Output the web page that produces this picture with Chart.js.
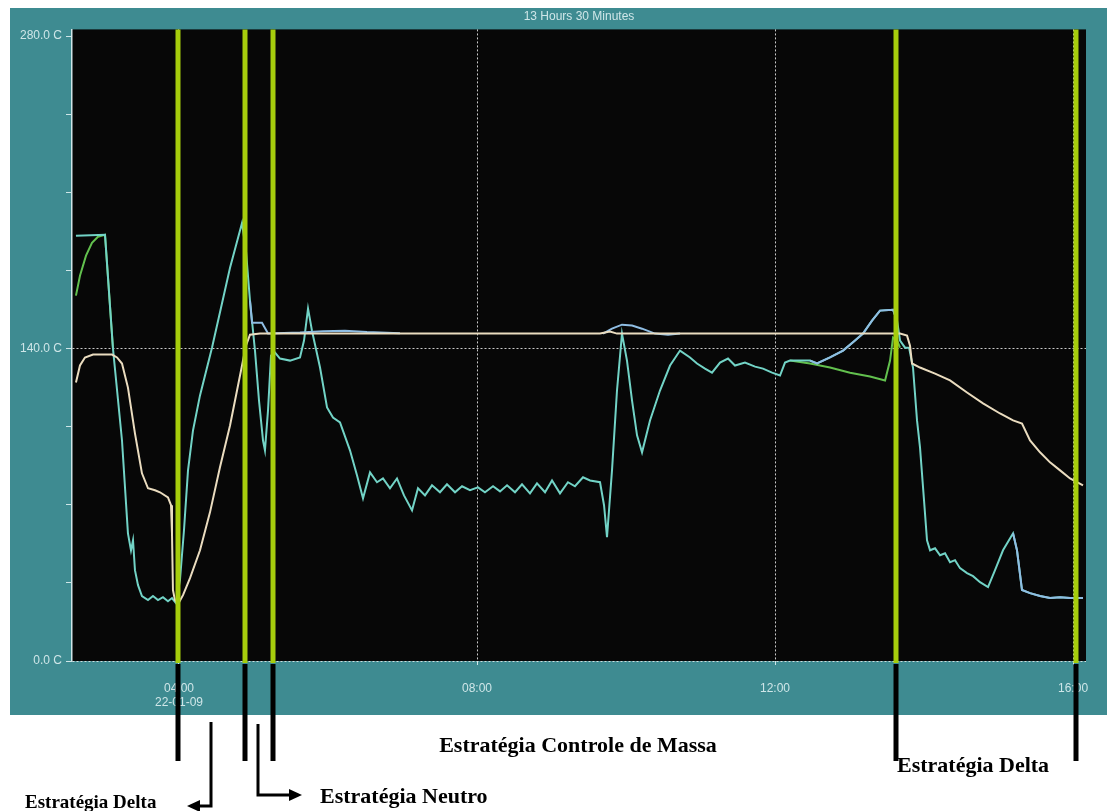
<!DOCTYPE html>
<html>
<head>
<meta charset="utf-8">
<title>Estratégias - temperatura</title>
<script src="https://cdn.jsdelivr.net/npm/chart.js@4.4.0/dist/chart.umd.min.js"></script>
<style>
  html, body { margin:0; padding:0; background:#fff; }
</style>
</head>
<body>
<canvas id="trendChart" width="1107" height="811"></canvas>
<script>
// time axis in hours of 22-01-09, values in degrees C
const xTickValues = [4, 8, 12, 16];
const xTickLabels = ["04:00", "08:00", "12:00", "16:00"];
const dateLabel = "22-01-09";
const yTickValues = [0, 35, 70, 105, 140, 175, 210, 245, 280];
const yLabelValues = [0, 140, 280];

// main (cyan) trace
const cyanTimes = [2.617,3.007,3.114,3.235,3.315,3.356,3.383,3.409,3.450,3.503,3.584,3.651,3.718,3.785,3.852,3.906,3.960,
  4.013,4.067,4.121,4.188,4.282,4.443,4.685,4.846,4.899,4.953,5.020,5.074,5.128,5.154,5.195,5.235,5.289,5.356,5.490,5.624,
  5.678,5.732,5.785,5.893,5.987,6.067,6.161,6.295,6.389,6.470,6.564,6.658,6.738,6.832,6.926,7.020,7.128,7.208,7.302,7.396,
  7.503,7.597,7.705,7.799,7.906,8.013,8.107,8.215,8.309,8.403,8.510,8.604,8.711,8.805,8.913,9.007,9.114,9.221,9.315,9.423,
  9.517,9.651,9.705,9.745,9.812,9.879,9.946,10.013,10.081,10.148,10.215,10.322,10.456,10.591,10.725,10.859,10.953,11.060,
  11.154,11.262,11.369,11.463,11.597,11.732,11.839,11.960,12.067,12.134,12.201,12.336,12.470,12.564,12.738,12.913,13.074,
  13.181,13.302,13.409,13.584,13.638,13.678,13.745,13.799,13.852,13.906,13.946,14.000,14.040,14.081,14.148,14.215,14.282,
  14.349,14.416,14.483,14.577,14.658,14.752,14.859,14.953,15.060,15.195,15.248,15.315,15.423,15.557,15.691,15.826,15.960,16.134];
const cyanTemps = [190.5,191.0,140.0,98.8,57.2,49.6,54.1,40.7,34.0,29.1,27.3,29.1,27.3,28.6,26.8,28.2,25.9,
  36.2,58.6,85.4,103.3,119.0,140.4,176.2,196.3,183.8,161.4,139.1,116.7,98.8,94.4,112.3,136.9,138.2,135.5,134.6,136.0,
  143.6,157.9,148.0,131.5,113.6,109.1,106.9,94.4,83.2,72.9,84.5,80.1,81.8,77.4,81.8,74.2,67.5,77.4,74.2,78.7,
  75.6,79.2,75.6,78.3,76.5,77.8,75.6,78.3,76.0,78.7,75.6,79.2,75.1,79.6,75.6,80.9,75.1,80.1,78.3,82.3,
  80.9,80.1,69.8,55.5,85.4,121.2,146.7,134.6,116.7,101.1,93.5,107.8,121.2,132.4,139.1,136.0,133.3,131.0,
  129.2,133.7,135.5,132.4,133.7,131.9,131.0,129.2,127.9,133.7,134.6,134.6,134.6,133.3,136.0,139.1,143.6,
  146.7,152.5,157.0,157.4,152.5,143.6,140.4,140.4,131.5,107.8,95.7,72.0,54.1,49.6,50.5,47.4,48.3,
  44.3,45.2,41.6,39.4,38.0,35.3,33.1,40.7,49.6,57.2,49.6,31.8,30.4,29.1,28.2,28.6,28.2,28.2];

// green trace where it leaves the cyan one
const greenTimes = [2.617,2.671,2.752,2.832,2.913,3.007,3.114, 8.0, 12.201,12.470,12.738,13.007,13.275,13.477,13.544,13.584,13.638,13.678];
const greenTemps = [163.7,172.6,181.6,187.4,190.1,191.0,140.0, null, 134.6,133.3,131.5,129.2,127.5,125.7,134.6,144.9,143.6,140.4];

// blue trace where it leaves the cyan one
const blueTimes = [4.953,4.980,5.114,5.195,5.624,5.933,6.228,6.523,6.966, 8.0,
  9.691,9.812,9.946,10.081,10.215,10.389,10.564,10.725, 11.5,
  12.470,12.564,12.738,12.913,13.074,13.181,13.302,13.409,13.584,13.638, 14.5,
  15.195,15.248,15.315,15.423,15.557,15.691,15.826,15.960,16.134];
const blueTemps = [161.4,151.6,151.6,146.7,147.2,147.8,148.0,147.4,146.9, null,
  146.7,148.9,150.7,150.3,148.9,146.7,146.2,146.7, null,
  134.6,133.3,136.0,139.1,143.6,146.7,152.5,157.0,157.4,152.5, null,
  57.2,49.6,31.8,30.4,29.1,28.2,28.6,28.2,28.2];

// cream trace
const creamTimes = [2.617,2.671,2.738,2.846,3.101,3.168,3.235,3.315,3.409,3.503,3.584,3.678,3.745,3.852,3.893,3.906,3.919,
  3.946,3.987,4.054,4.148,4.282,4.416,4.550,4.685,4.846,4.899,4.953,5.087,9.651,9.785,9.879,13.678,13.772,13.812,13.839,
  13.946,14.148,14.349,14.577,14.792,15.020,15.195,15.315,15.423,15.557,15.691,15.826,15.960,16.134];
const creamTemps = [124.8,132.4,136.0,137.3,137.3,136.0,133.3,122.5,102.0,84.1,77.4,76.5,75.6,73.3,69.8,57.2,31.8,
  27.3,25.5,29.5,37.1,49.6,66.6,86.8,105.5,132.4,141.3,146.2,146.7,146.7,147.6,146.7,146.7,145.8,141.3,133.3,
  131.5,128.8,125.7,120.3,115.4,110.9,107.8,106.4,98.8,93.5,89.0,85.4,81.8,78.7];

// strategy switch times (vertical markers) and arrow positions
const strategyTimes = [3.99, 4.89, 5.26, 13.62, 16.04];
const deltaArrowTime = 4.43;
const neutroArrowTime = 5.06;

const TEAL = "#3e8b91";
const PALE = "#cfe6e8";
const MARK = "#a6cd0c";
const DOTS = "rgba(235,235,235,0.85)";

const pts = (xs, ys) => xs.map((x, i) => ({x: x, y: ys[i]}));

const ctx = document.getElementById("trendChart").getContext("2d");

const backdrop = {
  id: "backdrop",
  beforeDraw(chart) {
    const c = chart.ctx, a = chart.chartArea;
    c.save();
    c.fillStyle = "#ffffff";
    c.fillRect(0, 0, chart.width, chart.height);
    c.fillStyle = TEAL;
    c.fillRect(10, 8, chart.width - 10, 707);
    c.fillStyle = "#070707";
    c.fillRect(a.left, a.top, a.right - a.left, a.bottom - a.top);
    c.restore();
  },
  afterDatasetsDraw(chart) {
    const c = chart.ctx, a = chart.chartArea, xs = chart.scales.x;
    c.save();
    c.strokeStyle = MARK;
    c.lineWidth = 5;
    strategyTimes.forEach(t => {
      const px = Math.round(xs.getPixelForValue(t));
      c.beginPath(); c.moveTo(px, a.top); c.lineTo(px, a.bottom + 2); c.stroke();
    });
    c.restore();
  },
  afterDraw(chart) {
    const c = chart.ctx, a = chart.chartArea, xs = chart.scales.x;
    c.save();
    // black continuation of the markers
    c.strokeStyle = "#000";
    c.lineWidth = 5;
    strategyTimes.forEach(t => {
      const px = Math.round(xs.getPixelForValue(t));
      c.beginPath(); c.moveTo(px, a.bottom + 3); c.lineTo(px, 761); c.stroke();
    });
    // arrows
    c.lineWidth = 3;
    c.fillStyle = "#000";
    const dx = Math.round(xs.getPixelForValue(deltaArrowTime));
    c.beginPath(); c.moveTo(dx, 722); c.lineTo(dx, 806); c.lineTo(dx - 12, 806); c.stroke();
    c.beginPath(); c.moveTo(dx - 24, 806); c.lineTo(dx - 11, 800); c.lineTo(dx - 11, 812); c.closePath(); c.fill();
    const nx = Math.round(xs.getPixelForValue(neutroArrowTime));
    c.beginPath(); c.moveTo(nx, 724); c.lineTo(nx, 795); c.lineTo(nx + 32, 795); c.stroke();
    c.beginPath(); c.moveTo(nx + 44, 795); c.lineTo(nx + 31, 789); c.lineTo(nx + 31, 801); c.closePath(); c.fill();
    // labels
    c.fillStyle = "#000";
    c.textBaseline = "middle";
    c.font = "bold 22px 'Liberation Serif', serif";
    c.textAlign = "center";
    c.fillText("Estratégia Controle de Massa", 578, 746);
    c.textAlign = "left";
    c.fillText("Estratégia Delta", 897, 766);
    c.fillText("Estratégia Neutro", 320, 797);
    c.font = "bold 19px 'Liberation Serif', serif";
    c.fillText("Estratégia Delta", 25, 803);
    c.restore();
  }
};

new Chart(ctx, {
  type: "line",
  data: {
    datasets: [
      {label: "Cream", data: pts(creamTimes, creamTemps), borderColor: "#eadcbf", borderWidth: 2},
      {label: "Blue", data: pts(blueTimes, blueTemps), borderColor: "#8fbde3", borderWidth: 2},
      {label: "Cyan", data: pts(cyanTimes, cyanTemps), borderColor: "#72d3c6", borderWidth: 2},
      {label: "Green", data: pts(greenTimes, greenTemps), borderColor: "#62c04e", borderWidth: 2}
    ]
  },
  options: {
    responsive: false,
    animation: false,
    spanGaps: false,
    elements: { point: { radius: 0 }, line: { tension: 0 } },
    layout: { padding: { left: 10, right: 21, top: 0, bottom: 0 } },
    plugins: {
      legend: { display: false },
      tooltip: { enabled: false },
      title: {
        display: true, text: "13 Hours 30 Minutes", fullSize: false,
        color: PALE, font: { family: "'Liberation Sans', Arial, sans-serif", size: 12, weight: "normal" },
        padding: { top: 9, bottom: 6 }
      }
    },
    scales: {
      x: {
        type: "linear", min: 2.564, max: 16.174,
        afterBuildTicks: s => { s.ticks = xTickValues.map(v => ({value: v})); },
        afterFit: s => { s.height = 150; },
        grid: { color: DOTS, lineWidth: 1, drawTicks: true, tickLength: 4, tickColor: PALE },
        border: { display: false, dash: [2, 2] },
        ticks: {
          color: PALE, padding: 16, maxRotation: 0, autoSkip: false,
          font: { family: "'Liberation Sans', Arial, sans-serif", size: 12 },
          callback: (v, i) => i === 0 ? [xTickLabels[0], dateLabel] : xTickLabels[i]
        }
      },
      y: {
        type: "linear", min: 0, max: 283,
        afterBuildTicks: s => { s.ticks = yTickValues.map(v => ({value: v})); },
        afterFit: s => { s.width = 62; },
        grid: {
          color: c => (c.tick && yLabelValues.includes(c.tick.value) && c.tick.value !== 280) ? DOTS : "rgba(0,0,0,0)",
          drawTicks: true, tickLength: 6, tickColor: PALE
        },
        border: { display: true, color: PALE, width: 1.5, dash: [2, 2] },
        ticks: {
          color: PALE, padding: 4,
          font: { family: "'Liberation Sans', Arial, sans-serif", size: 12 },
          callback: v => yLabelValues.includes(v) ? v.toFixed(1) + " C" : ""
        }
      }
    }
  },
  plugins: [backdrop]
});
</script>
</body>
</html>
